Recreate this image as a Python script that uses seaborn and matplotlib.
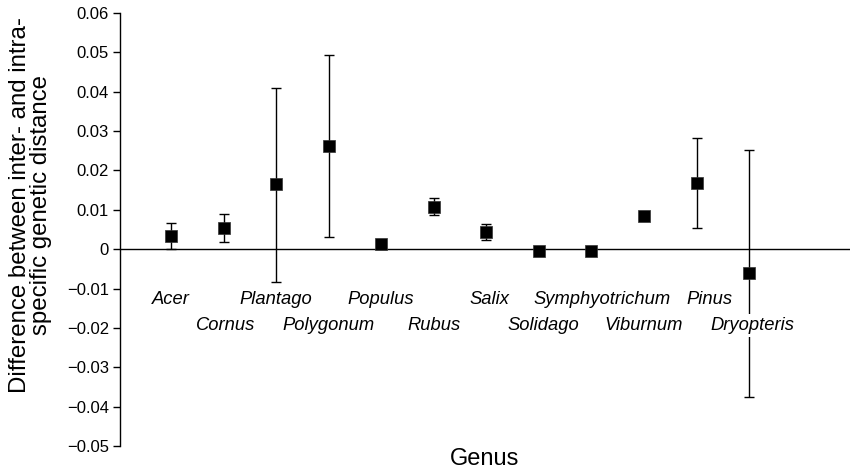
import matplotlib
matplotlib.use("Agg")
import matplotlib.pyplot as plt
import seaborn as sns
import numpy as np
import pandas as pd

# ---- data ----
genera = ["Acer", "Cornus", "Plantago", "Polygonum", "Populus", "Rubus",
          "Salix", "Solidago", "Symphyotrichum", "Viburnum", "Pinus", "Dryopteris"]
mean_diff = [0.0034, 0.0054, 0.0166, 0.0263, 0.0012, 0.0108,
             0.0043, -0.0005, -0.0004, 0.0084, 0.0169, -0.0061]
upper_ci = [0.0066, 0.0090, 0.0410, 0.0493, 0.0012, 0.0130,
            0.0063, -0.0005, 0.0003, 0.0084, 0.0283, 0.0252]
lower_ci = [0.0000, 0.0018, -0.0083, 0.0031, 0.0012, 0.0086,
            0.0023, -0.0005, -0.0012, 0.0084, 0.0054, -0.0375]
y_ticks = [-0.05, -0.04, -0.03, -0.02, -0.01, 0.0, 0.01, 0.02, 0.03, 0.04, 0.05, 0.06]
y_tick_labels = ["\u22120.05", "\u22120.04", "\u22120.03", "\u22120.02", "\u22120.01", "0",
                 "0.01", "0.02", "0.03", "0.04", "0.05", "0.06"]

# ---- layout (label nudges, in category units) ----
label_nudge = {"Salix": 0.06, "Solidago": 0.08, "Symphyotrichum": 0.2,
               "Pinus": 0.24, "Dryopteris": 0.07, "Cornus": 0.04}

df = pd.DataFrame({"genus": genera, "pos": np.arange(1, len(genera) + 1),
                   "mean": mean_diff, "hi": upper_ci, "lo": lower_ci})

sns.set_theme(style="white")
plt.rcParams["font.family"] = ["Liberation Sans", "DejaVu Sans"]

fig = plt.figure(figsize=(8.5, 4.72), dpi=100)
ax = fig.add_axes([120 / 850, 26 / 472, 730 / 850, 433 / 472])

yerr = np.vstack([df["mean"] - df["lo"], df["hi"] - df["mean"]])
ax.errorbar(df["pos"], df["mean"], yerr=yerr, fmt="none", ecolor="black",
            elinewidth=1.0, capsize=3.4, capthick=1.0, zorder=2)
sns.scatterplot(data=df, x="pos", y="mean", marker="s", s=68, color="black",
                edgecolor="#333333", linewidth=0.5, ax=ax, zorder=4)

ax.axhline(0, color="black", lw=1.0, zorder=1)

# genus labels, staggered in two rows
for i, row in df.iterrows():
    ybase = -0.01397 if i % 2 == 0 else -0.02058
    ax.text(row["pos"] + label_nudge.get(row["genus"], 0.0), ybase, row["genus"],
            ha="center", va="baseline", fontsize=13.2, style="italic",
            color="black", zorder=5,
            bbox=dict(facecolor="white", edgecolor="none", pad=2.0))

ax.set_xlim(0.03, 13.92)
ax.set_ylim(-0.05, 0.06)
ax.set_yticks(y_ticks)
ax.set_yticklabels(y_tick_labels, fontsize=12, color="black")
ax.set_xticks([])

for s in ["top", "right", "bottom"]:
    ax.spines[s].set_visible(False)
ax.spines["left"].set_color("black")
ax.spines["left"].set_linewidth(1.0)
ax.tick_params(axis="y", direction="out", length=5, width=1, color="black",
               left=True, pad=3)

ax.set_ylabel("Difference between inter- and intra-\nspecific genetic distance",
              fontsize=17.3, color="black", linespacing=0.95)
ax.yaxis.set_label_coords(-0.093, 0.557)
ax.set_xlabel("Genus", fontsize=17, color="black")
ax.xaxis.set_label_coords(0.5, -0.005)

fig.savefig("out.png", dpi=100)
